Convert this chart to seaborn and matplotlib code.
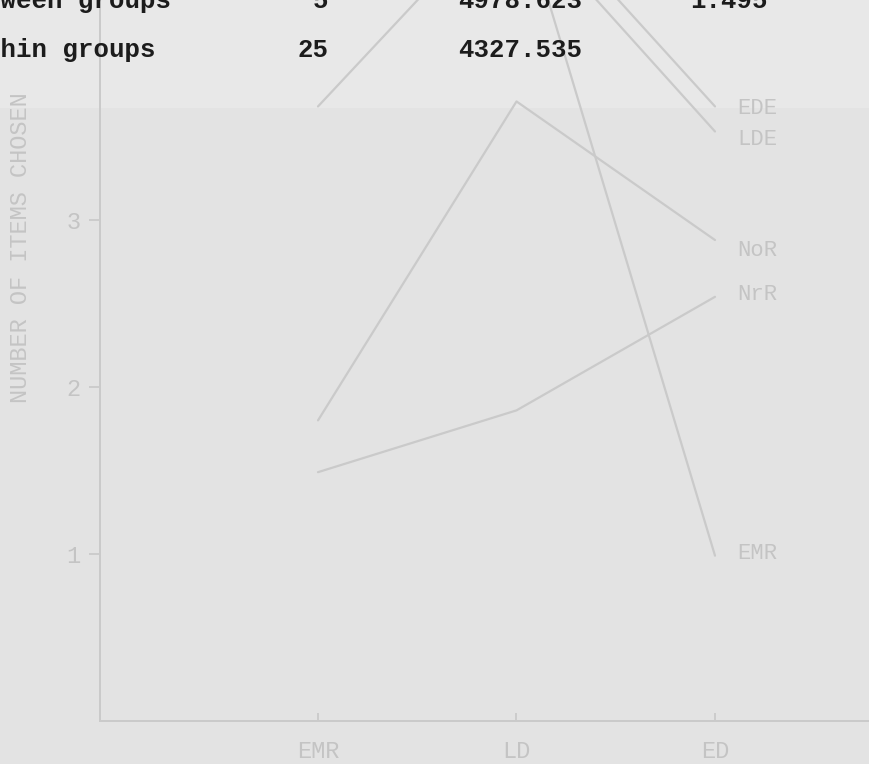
import matplotlib
matplotlib.use("Agg")
import matplotlib.pyplot as plt
import seaborn as sns
import pandas as pd
from matplotlib.patches import Rectangle

# Groups along the x axis
categories = ["EMR", "LD", "ED"]

# Mean number of items chosen, one line per series
series_names = ["EDE", "LDE", "NoR", "NrR", "EMR"]
ede_values = [4.75, 4.99, 3.68]
lde_values = [4.55, 4.85, 3.53]
nor_values = [1.80, 3.71, 2.88]
nrr_values = [1.49, 1.86, 2.54]
emr_values = [3.68, 4.95, 0.99]

y_ticks = [1, 2, 3]
y_label = "NUMBER OF ITEMS CHOSEN"

# ANOVA summary rows printed above the graph
anova_sources = ["Between groups", "Within groups"]
anova_df = ["5", "25"]
anova_ss = ["4978.623", "4327.535"]
anova_f = ["1.495", ""]

series_values = [ede_values, lde_values, nor_values, nrr_values, emr_values]
rows = []
for name, vals in zip(series_names, series_values):
    for cat, v in zip(categories, vals):
        rows.append({"group": cat, "value": v, "series": name})
df = pd.DataFrame(rows)

PAPER = "#e3e3e3"
FAINT_LINE = "#cacaca"
FAINT_TEXT = "#c4c4c4"
INK = "#1c1c1c"

sns.set_theme(style="white")
plt.rcParams["font.family"] = ["Liberation Mono", "DejaVu Sans Mono"]

W, H = 870, 764
fig = plt.figure(figsize=(W / 100, H / 100), dpi=100, facecolor=PAPER)

# slightly lighter paper strip behind the table
strip = Rectangle((0, 1 - 108 / H), 1, 108 / H, transform=fig.transFigure,
                  facecolor="#e8e8e8", edgecolor="none", zorder=-5)
fig.patches.append(strip)

# axes extends above the page edge; the top of the graph is cut off
ax_left, ax_bottom = 100 / W, (H - 721) / H
ymax = 5.5
px_per_unit = 167
ax_height = ymax * px_per_unit / H
ax = fig.add_axes([ax_left, ax_bottom, 1 - ax_left, ax_height])
ax.set_facecolor("none")
ax.set_zorder(2)

sns.lineplot(data=df, x="group", y="value", hue="series", hue_order=series_names,
             palette=[FAINT_LINE] * len(series_names), linewidth=1.6,
             legend=False, sort=False, ax=ax)

spacing = 198.5
ax.set_xlim(-(318 - 100) / spacing, 2 + (870 - 715) / spacing)
ax.set_ylim(0, ymax)

for side in ["top", "right"]:
    ax.spines[side].set_visible(False)
for side in ["left", "bottom"]:
    ax.spines[side].set_color(FAINT_LINE)
    ax.spines[side].set_linewidth(1.4)

ax.set_yticks(y_ticks)
ax.set_yticklabels([str(t) for t in y_ticks], color=FAINT_TEXT, fontsize=17)
ax.set_xticks(range(len(categories)))
ax.set_xticklabels(categories, color=FAINT_TEXT, fontsize=17)
ax.tick_params(axis="y", direction="out", length=8, width=1.3, color=FAINT_LINE, pad=6, left=True)
ax.tick_params(axis="x", direction="in", length=6, width=1.3, color=FAINT_LINE, pad=14, bottom=True)
ax.set_xlabel("")
ax.set_ylabel("")

# series labels at the right end of each line
label_dy = {"EDE": -2, "LDE": -8, "NoR": -10, "NrR": 2, "EMR": 2}
for name, vals in zip(series_names, series_values):
    ax.annotate(name, xy=(2, vals[-1]), xytext=(22, label_dy[name]),
                textcoords="offset pixels", va="center", ha="left",
                color=FAINT_TEXT, fontsize=16)

fig.text(21 / W, 1 - 403 / H, y_label, rotation=90, ha="center", va="bottom",
         color=FAINT_TEXT, fontsize=17, zorder=3)

# ANOVA table text
col_x = [-46, 298, 458, 690]
row_base = [8, 57]
for i in range(2):
    yb = 1 - row_base[i] / H
    fig.text(col_x[0] / W, yb, anova_sources[i], va="baseline", ha="left",
             color=INK, fontsize=18.5, fontweight="bold", zorder=4)
    fig.text((col_x[1] + (15 if len(anova_df[i]) == 1 else 0)) / W, yb, anova_df[i],
             va="baseline", ha="left", color=INK, fontsize=18.5, fontweight="bold", zorder=4)
    fig.text(col_x[2] / W, yb, anova_ss[i], va="baseline", ha="left",
             color=INK, fontsize=18.5, fontweight="bold", zorder=4)
    if anova_f[i]:
        fig.text(col_x[3] / W, yb, anova_f[i], va="baseline", ha="left",
                 color=INK, fontsize=18.5, fontweight="bold", zorder=4)

fig.savefig("out.png", dpi=100, facecolor=PAPER)
